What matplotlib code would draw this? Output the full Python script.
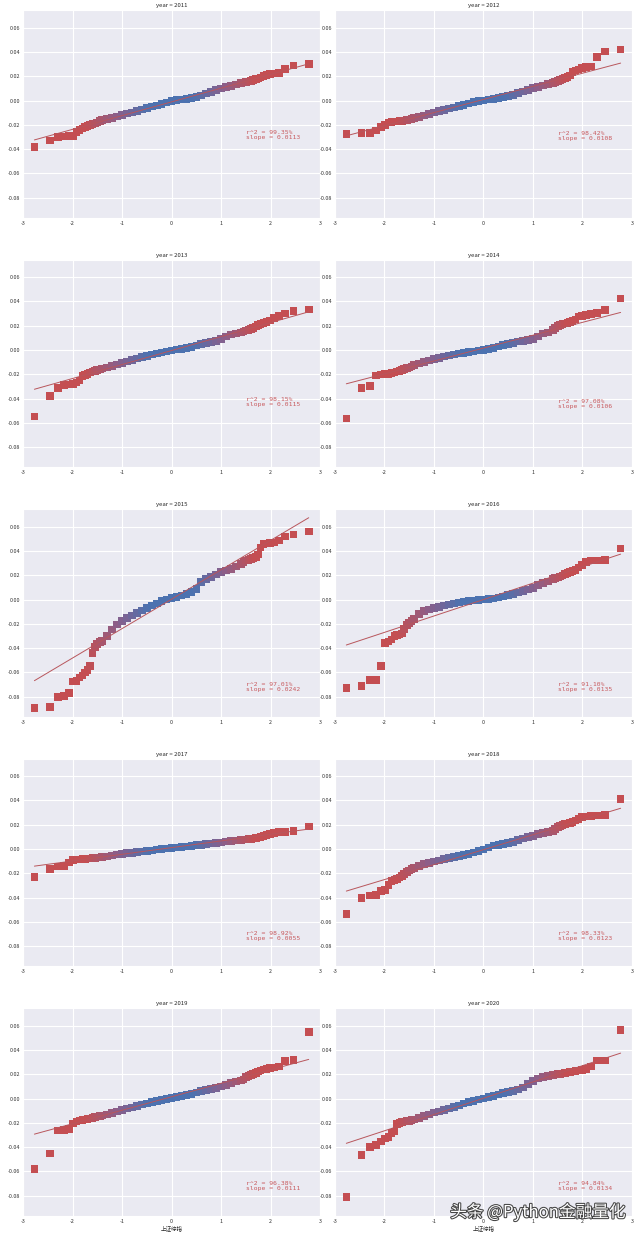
import numpy as np
import matplotlib
matplotlib.use("Agg")
import matplotlib.pyplot as plt
import matplotlib.patheffects as pe
from matplotlib.colors import LinearSegmentedColormap, Normalize
from matplotlib.ticker import MultipleLocator, FuncFormatter
import seaborn as sns

sns.set_style("darkgrid")
plt.rcParams["font.family"] = ["Noto Sans CJK SC", "DejaVu Sans"]
plt.rcParams["axes.unicode_minus"] = False

# ===================== 数据 =====================
years = [2011, 2012, 2013, 2014, 2015, 2016, 2017, 2018, 2019, 2020]

# 理论分位数（正态）
theo_q = [-2.77, -2.46, -2.29, -2.17, -2.07, -1.99, -1.92, -1.86, -1.80, -1.75,
          -1.70, -1.65, -1.60, -1.55, -1.50, -1.45, -1.40,
          -1.3, -1.2, -1.1, -1.0, -0.9, -0.8, -0.7, -0.6, -0.5, -0.4, -0.3, -0.2, -0.1,
          0.0, 0.1, 0.2, 0.3, 0.4, 0.5, 0.6, 0.7, 0.8, 0.9, 1.0, 1.1, 1.2, 1.3,
          1.40, 1.45, 1.50, 1.55, 1.60, 1.65, 1.70, 1.75, 1.80, 1.86,
          1.92, 1.99, 2.07, 2.17, 2.29, 2.46, 2.77]

# 上证综指日收益率（排序后）
ret_2011 = [-0.0380, -0.0330, -0.0300, -0.0297, -0.0293, -0.0290, -0.0260, -0.0240, -0.0230, -0.0220,
            -0.0210, -0.0200, -0.0195, -0.0190, -0.0180, -0.0168, -0.0160,
            -0.0150, -0.0142, -0.0130, -0.0118, -0.0108, -0.0098, -0.0088, -0.0075, -0.0062, -0.0050,
            -0.0040, -0.0028, -0.0015, -0.0005, 0.0002, 0.0008, 0.0014, 0.0020, 0.0030, 0.0042,
            0.0058, 0.0072, 0.0085, 0.0098, 0.0110, 0.0122, 0.0132,
            0.0142, 0.0148, 0.0153, 0.0158, 0.0163, 0.0168, 0.0175, 0.0182, 0.0190, 0.0200,
            0.0210, 0.0218, 0.0222, 0.0225, 0.0260, 0.0288, 0.0300]
ret_2012 = [-0.0275, -0.0267, -0.0267, -0.0245, -0.0220, -0.0200, -0.0180, -0.0176, -0.0174, -0.0172,
            -0.0170, -0.0168, -0.0165, -0.0160, -0.0155, -0.0150, -0.0145,
            -0.0135, -0.0124, -0.0110, -0.0097, -0.0087, -0.0077, -0.0067, -0.0058, -0.0047, -0.0036,
            -0.0025, -0.0014, -0.0006, 0.0000, 0.0007, 0.0014, 0.0021, 0.0028, 0.0037, 0.0047,
            0.0060, 0.0074, 0.0088, 0.0102, 0.0113, 0.0124, 0.0135,
            0.0146, 0.0153, 0.0160, 0.0168, 0.0178, 0.0185, 0.0195, 0.0205, 0.0235, 0.0248,
            0.0256, 0.0268, 0.0274, 0.0280, 0.0360, 0.0405, 0.0420]
ret_2013 = [-0.0547, -0.0378, -0.0310, -0.0288, -0.0284, -0.0280, -0.0268, -0.0250, -0.0215, -0.0205,
            -0.0195, -0.0185, -0.0178, -0.0172, -0.0166, -0.0160, -0.0153,
            -0.0142, -0.0130, -0.0119, -0.0108, -0.0095, -0.0083, -0.0071, -0.0059, -0.0048, -0.0038,
            -0.0028, -0.0019, -0.0011, -0.0004, 0.0003, 0.0010, 0.0017, 0.0027, 0.0038, 0.0050,
            0.0057, 0.0064, 0.0076, 0.0091, 0.0110, 0.0127, 0.0137,
            0.0146, 0.0152, 0.0160, 0.0167, 0.0174, 0.0183, 0.0195, 0.0205, 0.0215, 0.0224,
            0.0232, 0.0243, 0.0262, 0.0280, 0.0300, 0.0320, 0.0334]
ret_2014 = [-0.0564, -0.0310, -0.0296, -0.0210, -0.0202, -0.0198, -0.0195, -0.0190, -0.0185, -0.0178,
            -0.0170, -0.0162, -0.0155, -0.0150, -0.0144, -0.0135, -0.0125,
            -0.0110, -0.0096, -0.0085, -0.0075, -0.0064, -0.0053, -0.0044, -0.0036, -0.0028, -0.0022,
            -0.0016, -0.0011, -0.0005, 0.0000, 0.0008, 0.0017, 0.0028, 0.0040, 0.0050, 0.0060,
            0.0069, 0.0077, 0.0084, 0.0091, 0.0110, 0.0135, 0.0146,
            0.0166, 0.0183, 0.0198, 0.0205, 0.0212, 0.0218, 0.0224, 0.0232, 0.0240, 0.0250,
            0.0275, 0.0280, 0.0288, 0.0296, 0.0307, 0.0330, 0.0423]
ret_2015 = [-0.0890, -0.0884, -0.0800, -0.0796, -0.0770, -0.0675, -0.0670, -0.0640, -0.0625, -0.0600,
            -0.0578, -0.0545, -0.0440, -0.0390, -0.0365, -0.0348, -0.0342,
            -0.0300, -0.0245, -0.0205, -0.0175, -0.0152, -0.0132, -0.0110, -0.0090, -0.0070, -0.0050,
            -0.0031, -0.0014, -0.0001, 0.0011, 0.0022, 0.0033, 0.0046, 0.0060, 0.0088, 0.0145,
            0.0168, 0.0185, 0.0205, 0.0225, 0.0240, 0.0253, 0.0273,
            0.0295, 0.0308, 0.0320, 0.0328, 0.0336, 0.0343, 0.0350, 0.0370, 0.0430, 0.0455,
            0.0462, 0.0466, 0.0470, 0.0485, 0.0520, 0.0537, 0.0560]
ret_2016 = [-0.0730, -0.0713, -0.0664, -0.0660, -0.0545, -0.0358, -0.0345, -0.0330, -0.0300, -0.0290,
            -0.0286, -0.0280, -0.0242, -0.0210, -0.0192, -0.0178, -0.0160,
            -0.0120, -0.0096, -0.0082, -0.0069, -0.0059, -0.0050, -0.0040, -0.0031, -0.0024, -0.0017,
            -0.0012, -0.0008, -0.0004, 0.0000, 0.0004, 0.0009, 0.0016, 0.0025, 0.0036, 0.0047,
            0.0058, 0.0069, 0.0082, 0.0096, 0.0118, 0.0138, 0.0150,
            0.0168, 0.0175, 0.0183, 0.0190, 0.0198, 0.0208, 0.0218, 0.0226, 0.0234, 0.0245,
            0.0265, 0.0285, 0.0310, 0.0322, 0.0323, 0.0328, 0.0420]
ret_2017 = [-0.0232, -0.0163, -0.0143, -0.0138, -0.0110, -0.0092, -0.0087, -0.0085, -0.0082, -0.0080,
            -0.0078, -0.0076, -0.0074, -0.0072, -0.0070, -0.0068, -0.0066,
            -0.0060, -0.0053, -0.0046, -0.0039, -0.0034, -0.0030, -0.0025, -0.0020, -0.0015, -0.0011,
            -0.0005, 0.0000, 0.0004, 0.0008, 0.0013, 0.0018, 0.0022, 0.0027, 0.0032, 0.0036,
            0.0041, 0.0046, 0.0050, 0.0055, 0.0061, 0.0067, 0.0072,
            0.0076, 0.0078, 0.0080, 0.0083, 0.0085, 0.0088, 0.0092, 0.0096, 0.0100, 0.0108,
            0.0115, 0.0126, 0.0134, 0.0140, 0.0141, 0.0148, 0.0187]
ret_2018 = [-0.0535, -0.0405, -0.0383, -0.0380, -0.0345, -0.0335, -0.0295, -0.0265, -0.0252, -0.0248,
            -0.0235, -0.0220, -0.0205, -0.0190, -0.0175, -0.0165, -0.0157,
            -0.0137, -0.0124, -0.0113, -0.0103, -0.0094, -0.0083, -0.0072, -0.0063, -0.0055, -0.0047,
            -0.0039, -0.0028, -0.0017, -0.0005, 0.0012, 0.0028, 0.0036, 0.0044, 0.0052, 0.0060,
            0.0073, 0.0086, 0.0098, 0.0110, 0.0122, 0.0133, 0.0141,
            0.0150, 0.0165, 0.0183, 0.0190, 0.0197, 0.0204, 0.0210, 0.0216, 0.0224, 0.0235,
            0.0248, 0.0262, 0.0268, 0.0272, 0.0276, 0.0280, 0.0410]
ret_2019 = [-0.0579, -0.0452, -0.0263, -0.0258, -0.0250, -0.0205, -0.0190, -0.0180, -0.0175, -0.0171,
            -0.0167, -0.0163, -0.0158, -0.0154, -0.0149, -0.0144, -0.0140,
            -0.0130, -0.0118, -0.0106, -0.0094, -0.0083, -0.0072, -0.0061, -0.0050, -0.0039, -0.0028,
            -0.0019, -0.0011, -0.0002, 0.0006, 0.0014, 0.0022, 0.0030, 0.0040, 0.0051, 0.0061,
            0.0070, 0.0080, 0.0089, 0.0101, 0.0114, 0.0127, 0.0139,
            0.0150, 0.0156, 0.0180, 0.0188, 0.0194, 0.0204, 0.0213, 0.0222, 0.0230, 0.0238,
            0.0245, 0.0252, 0.0256, 0.0264, 0.0310, 0.0318, 0.0548]
ret_2020 = [-0.0809, -0.0463, -0.0400, -0.0382, -0.0352, -0.0330, -0.0316, -0.0283, -0.0270, -0.0210,
            -0.0200, -0.0195, -0.0190, -0.0186, -0.0182, -0.0177, -0.0172,
            -0.0158, -0.0144, -0.0130, -0.0116, -0.0105, -0.0094, -0.0082, -0.0069, -0.0056, -0.0042,
            -0.0030, -0.0019, -0.0009, 0.0000, 0.0011, 0.0022, 0.0033, 0.0044, 0.0054, 0.0064,
            0.0076, 0.0091, 0.0119, 0.0147, 0.0166, 0.0180, 0.0187,
            0.0194, 0.0198, 0.0201, 0.0204, 0.0208, 0.0212, 0.0216, 0.0220, 0.0224, 0.0227,
            0.0230, 0.0235, 0.0245, 0.0265, 0.0313, 0.0313, 0.0562]

# 拟合结果
r2_pct = [99.35, 98.42, 98.15, 97.08, 97.01, 91.10, 98.92, 98.33, 96.38, 94.84]
slopes = [0.0113, 0.0108, 0.0115, 0.0106, 0.0242, 0.0135, 0.0055, 0.0123, 0.0111, 0.0134]
intercepts = [-0.0011, 0.0009, -0.0004, 0.0016, 0.0003, 0.0000, 0.0012, -0.0005, 0.0015, 0.0003]
# 文字标注纵向位置
label_y = [-0.0286, -0.0292, -0.0425, -0.0440, -0.0720, -0.0718, -0.0718, -0.0718, -0.0722, -0.0722]

all_ret = [ret_2011, ret_2012, ret_2013, ret_2014, ret_2015,
           ret_2016, ret_2017, ret_2018, ret_2019, ret_2020]

# ===================== 绘图 =====================
fig, axes = plt.subplots(5, 2, figsize=(6.4, 12.36), dpi=100)
fig.subplots_adjust(left=0.036, right=0.9875, top=0.9919, bottom=0.0162,
                    wspace=0.05, hspace=0.2)

cmap = LinearSegmentedColormap.from_list("qq", ["#4c72b0", "#8a5f8a", "#c44e52"])
norm = Normalize(vmin=0.45, vmax=1.7)
q = np.array(theo_q)

for ax, year, ret, r2, k, b, ty in zip(axes.flat, years, all_ret, r2_pct,
                                      slopes, intercepts, label_y):
    ax.scatter(q, ret, c=np.abs(q), cmap=cmap, norm=norm, marker="s", s=30,
               linewidths=0, zorder=2)
    xs = np.array([q.min(), q.max()])
    ax.plot(xs, b + k * xs, color="#b8565c", lw=0.7, zorder=3)
    ax.text(1.5, ty, f"r^2 = {r2:.2f}%\nslope = {k:.4f}", color="#c85a5e",
            fontsize=4.6, family="DejaVu Sans Mono", va="center", ha="left",
            linespacing=1.0)
    ax.set_title(f"year = {year}", fontsize=4.3, pad=2)
    ax.set_xlim(-3, 3)
    ax.set_ylim(-0.0966, 0.0745)
    ax.xaxis.set_major_locator(MultipleLocator(1))
    ax.yaxis.set_major_locator(MultipleLocator(0.02))
    ax.yaxis.set_major_formatter(FuncFormatter(lambda v, p: f"{round(v, 2) + 0:.2f}"))
    ax.tick_params(labelsize=3.9, pad=2, length=0, labelcolor="#333333")

for ax in axes[-1]:
    ax.set_xlabel("上证综指", fontsize=4, labelpad=1)

fig.text(0.977, 0.0194, "头条 @Python金融量化", ha="right", va="center",
         fontsize=12, color="white",
         path_effects=[pe.withStroke(linewidth=1.5, foreground="#444444")])

fig.savefig("out.png", dpi=100)
